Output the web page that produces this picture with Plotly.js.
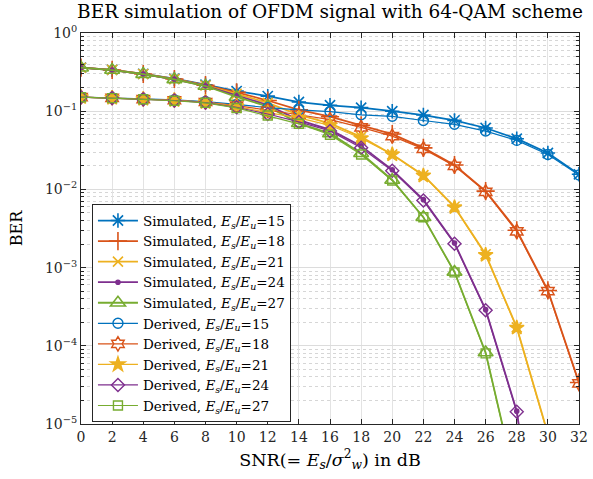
<!DOCTYPE html>
<html>
<head>
<meta charset="utf-8">
<script src="https://cdn.plot.ly/plotly-3.0.1.min.js"></script>
<style>html,body{margin:0;padding:0;background:#fff;}#chart{width:593px;height:479px;}</style>
</head>
<body>
<div id="chart"></div>
<script>
const snr = [0,2,4,6,8,10,12,14,16,18,20,22,24,26,28,30,32];

const sim15 = [0.360,0.338,0.300,0.260,0.218,0.181,0.156,0.131,0.119,0.111,0.100,0.0893,0.0763,0.061,0.0445,0.0292,0.0156];
const sim18 = [0.360,0.337,0.299,0.258,0.215,0.174,0.137,0.104,0.085,0.066,0.051,0.034,0.0205,0.0095,0.0030,0.00051,3.4e-5];
const sim21 = [0.360,0.337,0.299,0.257,0.213,0.167,0.128,0.090,0.070,0.047,0.028,0.0152,0.0060,0.00148,0.000172,7.5e-6,5e-8];
const sim24 = [0.360,0.336,0.298,0.256,0.211,0.160,0.120,0.077,0.058,0.036,0.0178,0.0074,0.00206,0.00029,1.46e-5,3e-8,1e-11];
const sim27 = [0.360,0.336,0.298,0.255,0.210,0.152,0.115,0.070,0.052,0.029,0.0132,0.0044,0.00088,8.2e-5,1.6e-6,5e-9,1e-12];

const der15 = [0.151,0.149,0.144,0.140,0.133,0.122,0.111,0.104,0.099,0.090,0.086,0.076,0.068,0.0557,0.0424,0.028,0.0153];
const der18 = [0.151,0.148,0.143,0.138,0.131,0.118,0.102,0.090,0.078,0.062,0.048,0.033,0.0200,0.0093,0.0029,0.00050,3.3e-5];
const der21 = [0.151,0.148,0.143,0.138,0.130,0.115,0.096,0.082,0.066,0.045,0.028,0.0150,0.0059,0.00145,0.000170,7.3e-6,5e-8];
const der24 = [0.151,0.148,0.142,0.137,0.129,0.112,0.092,0.073,0.056,0.034,0.0173,0.0072,0.00202,0.000285,1.43e-5,3e-8,1e-11];
const der27 = [0.151,0.147,0.142,0.136,0.128,0.110,0.088,0.069,0.050,0.028,0.0130,0.0044,0.00087,8.0e-5,1.6e-6,5e-9,1e-12];

const ratios = ['15','18','21','24','27'];
const yTickVals = [1e-5,1e-4,1e-3,1e-2,1e-1,1];
const yTickText = ['10<sup>−5</sup>','10<sup>−4</sup>','10<sup>−3</sup>','10<sup>−2</sup>','10<sup>−1</sup>','10<sup>0</sup>'];

const colors = ['#0072BD','#D95319','#EDB120','#7E2F8E','#77AC30'];
const simSymbols = ['asterisk-open','cross-thin-open','x-thin-open','circle','triangle-up-open'];
const simSizes = [12,13,10,4,13];
const derSymbols = ['circle-open','hexagram-open','star','diamond-open','square-open'];
const derSizes = [10,11,11,10,9];

const simData = [sim15,sim18,sim21,sim24,sim27];
const derData = [der15,der18,der21,der24,der27];

const esEu = r => '<i>E<sub>s</sub></i>/<i>E<sub>u</sub></i>=' + r;

const traces = [];
simData.forEach((d,i)=>{
  traces.push({x:snr,y:d,type:'scatter',mode:'lines+markers',name:'Simulated, '+esEu(ratios[i]),
    line:{color:colors[i],width:1.8},
    marker:{symbol:simSymbols[i],size:simSizes[i],color:colors[i],line:{color:colors[i],width:1.6}},
    cliponaxis:true});
});
derData.forEach((d,i)=>{
  traces.push({x:snr,y:d,type:'scatter',mode:'lines+markers',name:'Derived, '+esEu(ratios[i]),
    line:{color:colors[i],width:1.2},
    marker:{symbol:derSymbols[i],size:derSizes[i],color:colors[i],line:{color:colors[i],width:1.4}},
    cliponaxis:true});
});

const minorVals = [];
for (let e=-5; e<0; e++) for (let m=2; m<10; m++) minorVals.push(m*Math.pow(10,e));

const font = 'DejaVu Serif, serif';
const layout = {
  width:593,height:479,
  margin:{l:81,r:14,t:33,b:55},
  paper_bgcolor:'#fff',plot_bgcolor:'#fff',
  font:{family:font,size:14,color:'#262626'},
  title:{text:'BER simulation of OFDM signal with 64-QAM scheme',font:{family:font,size:18.5,color:'#000'},xref:'paper',x:0.5,xanchor:'center',y:0.99,yanchor:'top'},
  showlegend:true,
  legend:{x:0.022,y:0.562,xanchor:'left',yanchor:'top',bgcolor:'#fff',bordercolor:'#262626',borderwidth:1,
    font:{family:font,size:13.5,color:'#000'},tracegroupgap:0,itemwidth:40},
  xaxis:{range:[0,32],tickmode:'array',tickvals:snr,ticks:'inside',ticklen:5,tickcolor:'#262626',
    showline:true,linecolor:'#262626',linewidth:1,mirror:'ticks',
    showgrid:true,gridcolor:'#e3e3e3',zeroline:false,
    tickfont:{family:font,size:14,color:'#262626'},
    title:{text:'SNR(= <i>E<sub>s</sub></i>/<i>σ</i><sup>2</sup><sub><i>w</i></sub>) in dB',font:{family:font,size:17.5,color:'#000'},standoff:9}},
  yaxis:{type:'log',range:[-5,0],tickmode:'array',tickvals:yTickVals,ticktext:yTickText,ticks:'inside',ticklen:5,tickcolor:'#262626',
    showline:true,linecolor:'#262626',linewidth:1,mirror:'ticks',
    showgrid:true,gridcolor:'#dcdcdc',zeroline:false,
    minor:{tickmode:'array',tickvals:minorVals,ticks:'inside',ticklen:3,tickcolor:'#262626',showgrid:true,gridcolor:'#d6d6d6',griddash:'dot'},
    tickfont:{family:font,size:14,color:'#262626'},
    title:{text:'BER',font:{family:font,size:16,color:'#000'},standoff:18}}
};

Plotly.newPlot('chart',traces,layout,{displayModeBar:false,staticPlot:true});
</script>
</body>
</html>
